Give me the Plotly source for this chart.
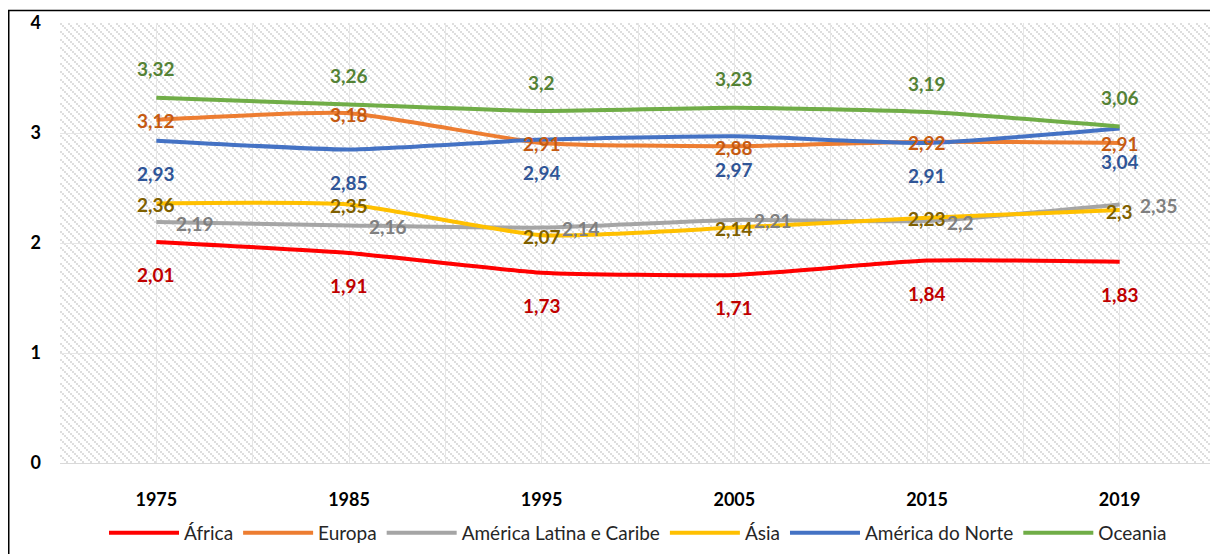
import base64
import plotly.graph_objects as go

years = ["1975", "1985", "1995", "2005", "2015", "2019"]
series_names = ["África", "Europa", "América Latina e Caribe", "Ásia", "América do Norte", "Oceania"]
africa = [2.01, 1.91, 1.73, 1.71, 1.84, 1.83]
europa = [3.12, 3.18, 2.91, 2.88, 2.92, 2.91]
america_latina = [2.19, 2.16, 2.14, 2.21, 2.20, 2.35]
asia = [2.36, 2.35, 2.07, 2.14, 2.23, 2.30]
america_norte = [2.93, 2.85, 2.94, 2.97, 2.91, 3.04]
oceania = [3.32, 3.26, 3.20, 3.23, 3.19, 3.06]
y_ticks = [0, 1, 2, 3, 4]

values = [africa, europa, america_latina, asia, america_norte, oceania]
line_colors = ["#FF0000", "#ED7D31", "#A5A5A5", "#FFC000", "#4472C4", "#70AD47"]
label_colors = ["#C00000", "#C55A11", "#7F7F7F", "#7F6000", "#2F5597", "#548235"]
# label placement: (xanchor, xshift, yshift)
label_pos = [("center", 0, -33), ("center", 0, -1), ("left", 18, -1),
             ("center", 0, -1), ("center", 0, -33), ("center", 0, 29)]

# page has an 8px body margin: figure is laid out so that page coords match
OFF = 8
W, H = 1218 - OFF, 554 - OFF
ML, MT = 60 - OFF, 23 - OFF
MR = W - (1216 - OFF)
MB = H - (463 - OFF)
PW, PH = W - ML - MR, H - MT - MB

# hatched plot background (Excel-like pattern)
g = "#dedede"
svg = (
    f'<svg xmlns="http://www.w3.org/2000/svg" width="{PW}" height="{PH}" shape-rendering="crispEdges">'
    '<defs><pattern id="p" width="8" height="8" patternUnits="userSpaceOnUse">'
    '<rect width="8" height="8" fill="#ffffff"/>'
    f'<rect x="0" y="0" width="2" height="2" fill="{g}"/>'
    f'<rect x="2" y="2" width="2" height="2" fill="{g}"/>'
    f'<rect x="4" y="4" width="2" height="2" fill="{g}"/>'
    f'<rect x="6" y="6" width="2" height="2" fill="{g}"/>'
    '</pattern></defs>'
    f'<rect width="{PW}" height="{PH}" fill="url(#p)"/></svg>'
)
uri = "data:image/svg+xml;base64," + base64.b64encode(svg.encode()).decode()

xpos = list(range(len(years)))

fig = go.Figure()
for name, vals, col in zip(series_names, values, line_colors):
    fig.add_trace(go.Scatter(
        x=xpos, y=vals, name=name, mode="lines",
        line=dict(color=col, width=4, shape="spline", smoothing=0.5),
        hoverinfo="skip",
    ))

annotations = []
for vals, col, (xa, xs, ys) in zip(values, label_colors, label_pos):
    for xi, v in zip(xpos, vals):
        annotations.append(dict(
            x=xi, y=v, xref="x", yref="y", text=f"{v:g}".replace(".", ","),
            showarrow=False, xanchor=xa, yanchor="middle", xshift=xs, yshift=ys,
            font=dict(family="Lato", size=19, color=col, weight="bold"),
        ))

legend_y_page = 533
fig.update_layout(
    width=W, height=H,
    margin=dict(l=ML, r=MR, t=MT, b=MB, pad=0),
    paper_bgcolor="white", plot_bgcolor="white",
    showlegend=True,
    legend=dict(orientation="h", x=0.5, xanchor="center",
                y=-((legend_y_page - OFF) - (MT + PH)) / PH,
                yanchor="middle", font=dict(family="Lato", size=19, color="#262626"),
                itemwidth=70, traceorder="normal", bgcolor="rgba(0,0,0,0)"),
    annotations=annotations,
    images=[dict(source=uri, xref="paper", yref="paper", x=0, y=1, sizex=1, sizey=1,
                 xanchor="left", yanchor="top", sizing="stretch", layer="below")],
    shapes=[dict(type="rect", xref="paper", yref="paper",
                 x0=-(ML - 0.75) / PW, x1=1 + (MR - 1.25) / PW,
                 y0=-0.3, y1=1 + (MT - 2.5) / PH,
                 line=dict(color="black", width=1.5), fillcolor="rgba(0,0,0,0)", layer="above")],
)

fig.update_xaxes(
    range=[-0.5, len(years) - 0.5], tickvals=xpos, ticktext=years,
    showgrid=True, gridcolor="#e6e6e6", gridwidth=1,
    minor=dict(dtick=0.5, tick0=-0.5, showgrid=True, gridcolor="#e6e6e6", gridwidth=1),
    zeroline=False, showline=True, linecolor="#d9d9d9", linewidth=1,
    ticks="", ticklabelstandoff=20,
    tickfont=dict(family="Lato", size=18, color="black", weight="bold"),
    fixedrange=True,
)
fig.update_yaxes(
    range=[0, 4], tickvals=y_ticks, ticktext=[str(t) for t in y_ticks],
    showgrid=True, gridcolor="#e6e6e6", gridwidth=1, zeroline=False, showline=False,
    ticks="", ticklabelstandoff=18,
    tickfont=dict(family="Lato", size=18, color="black", weight="bold"),
    fixedrange=True,
)

fig.write_html("out.html")
